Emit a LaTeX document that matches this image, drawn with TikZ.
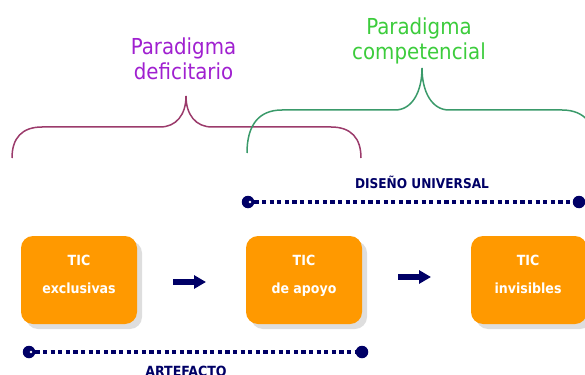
\documentclass[tikz,border=0pt]{standalone}
\usepackage{fontspec}
\setmainfont{DejaVu Sans Condensed}
\usetikzlibrary{arrows.meta}
\definecolor{navy}{HTML}{000066}
\definecolor{boxorange}{HTML}{FF9900}
\definecolor{shadowgray}{HTML}{DEDEDE}
\definecolor{bracepurple}{HTML}{9B3B6B}
\definecolor{bracegreen}{HTML}{3A9A6A}
\definecolor{textpurple}{HTML}{A020D0}
\definecolor{textgreen}{HTML}{3CCC3C}
\tikzset{
  ticbox/.style={fill=boxorange, rounded corners=12pt, minimum width=116pt, minimum height=88pt, inner sep=0pt, outer sep=0pt},
  ticshadow/.style={fill=shadowgray, rounded corners=12pt, minimum width=116pt, minimum height=88pt, inner sep=0pt},
  tictext/.style={text=white, font=\bfseries\fontsize{14}{14}\selectfont, align=center, inner sep=0pt},
  flowarrow/.style={draw=navy, line width=5.5pt, -{Triangle[length=12pt,width=13pt]}},
  dotline/.style={draw=navy, line width=4.5pt, dash pattern=on 4.2pt off 3.4pt},
  enddot/.style={circle, fill=navy, minimum size=12.5pt, inner sep=0pt},
  linelabel/.style={text=navy, font=\bfseries\fontsize{13.5}{15}\selectfont, inner sep=0pt},
  bracepath/.style={line width=1.5pt},
  paralabel/.style={font=\fontsize{22}{25}\selectfont, align=center, inner sep=0pt},
}
\begin{document}
\begin{tikzpicture}[x=1pt, y=-1pt]
\useasboundingbox (0,0) rectangle (585,374);
\begin{scope}
\clip (0,0) rectangle (585,374);
% braces
\draw[bracepath, bracepurple] (12,158) .. controls (12,138) and (22,127) .. (42,127) -- (160,127)
  .. controls (176,127) and (186,115) .. (186,96)
  .. controls (186,115) and (196,127) .. (212,127) -- (331,127)
  .. controls (351,127) and (361,138) .. (361,158);
\draw[bracepath, bracegreen] (247,153) .. controls (247,126) and (258,110) .. (282,110) -- (395,110)
  .. controls (412,110) and (422,92) .. (422,68)
  .. controls (422,92) and (432,110) .. (449,110) -- (562,110)
  .. controls (586,110) and (597,126) .. (597,153);
\node[paralabel, text=textpurple, anchor=base] (pdef) at (183.5,80) {Paradigma\\deficitario};
\node[paralabel, text=textgreen, anchor=base] (pcomp) at (419,60) {Paradigma\\competencial};
% boxes
\node[ticshadow] (s1) at (84,285) {};
\node[ticshadow] (s2) at (309,285) {};
\node[ticshadow] (s3) at (534,285) {};
\node[ticbox] (b1) at (79,280) {};
\node[ticbox] (b2) at (304,280) {};
\node[ticbox] (b3) at (529,280) {};
\node[tictext, anchor=base] (t1) at (79,293) {TIC\\[14pt]exclusivas};
\node[tictext, anchor=base] (t2) at (304,293) {TIC\\[14pt]de apoyo};
\node[tictext, anchor=base] (t3) at (528,293) {TIC\\[14pt]invisibles};
% arrows
\coordinate (a1s) at (173,282);
\coordinate (a1e) at (206,282);
\coordinate (a2s) at (398,277);
\coordinate (a2e) at (431,277);
\draw[flowarrow] (a1s) -- (a1e);
\draw[flowarrow] (a2s) -- (a2e);
% dotted lines
\node[enddot] (art1) at (29,352) {};
\node[enddot] (art2) at (362,352) {};
\node[enddot] (dis1) at (248,202) {};
\node[enddot] (dis2) at (579,202) {};
\draw[dotline] (art1.east) -- (art2.west);
\draw[dotline] (dis1.east) -- (dis2.west);
\fill[white] (31,352) circle (1.3pt);
\fill[white] (250,202) circle (1.3pt);
\node[linelabel, anchor=base, font=\bfseries\fontsize{14}{15}\selectfont] (artl) at (186,376) {ARTEFACTO};
\node[linelabel, anchor=base] (disl) at (422,188) {DISEÑO UNIVERSAL};
\end{scope}
\end{tikzpicture}
\end{document}
